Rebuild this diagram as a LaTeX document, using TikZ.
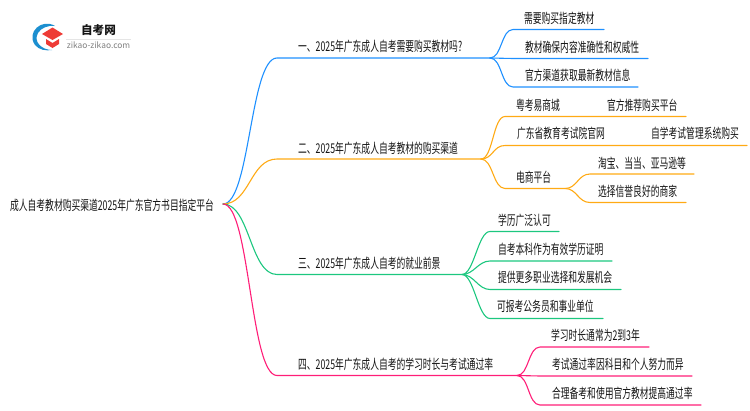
\documentclass[tikz,border=0pt]{standalone}
\usepackage{fontspec}
\setmainfont{Noto Sans CJK SC}
\definecolor{brblue}{HTML}{1E90FF}
\definecolor{brorange}{HTML}{FFAA14}
\definecolor{brgreen}{HTML}{1CC77F}
\definecolor{brpink}{HTML}{FF1E78}
\definecolor{txt}{HTML}{141414}
\definecolor{logoblue}{HTML}{1C8FD0}
\definecolor{logored}{HTML}{EE3B36}
\tikzstyle{every picture}=[x=1pt, y=-1pt]
\tikzstyle{lab}=[anchor=west, inner sep=0pt, xscale=.65, text=txt, font=\fontsize{13.5}{15}\selectfont]
\tikzstyle{wire}=[line width=1.1pt, line cap=round]
\tikzstyle{mainlink}=[to path={.. controls +(27,0) and +(-27,0) .. (\tikztotarget)}]
\tikzstyle{sublink}=[to path={.. controls +(12,0) and +(-12,0) .. (\tikztotarget)}]
\begin{document}
\begin{tikzpicture}
	\useasboundingbox (0,0) rectangle (750,410);
	% logo
	\fill[logoblue] (55,26) .. controls (42,18) and (26,32) .. (35,45) .. controls (39,50) and (46,51) .. (52,50)
		.. controls (42,50) and (33,42) .. (38,33) .. controls (41,28) and (48,25) .. (55,26);
	\fill[logored] (42,34) -- (52.5,27.5) -- (63,34) -- (52.5,40) -- cycle;
	\fill[logored] (46,39) -- (52.5,43) -- (59,39) -- (59,44) -- (52.5,48) -- (46,44) -- cycle;
	\node[inner sep=0pt, text=txt, font=\fontsize{11.6}{13}\selectfont\bfseries] (logo) at (98.5,30.5) {自考网};
	\node[inner sep=0pt, text=black!50, font=\fontsize{8.4}{9}\selectfont] (site) at (98.5,45) {zikao-zikao.com};
	\draw[black!10, line width=.5pt] (66,39) -- (131,39);

	\node[lab] (root) at (10,205) {成人自考教材购买渠道2025年广东官方书目指定平台};
	\coordinate (from) at (223,204);

	% first branch
	\node[lab] (A) at (298,46.5) {一、2025年广东成人自考需要购买教材吗?};
	\coordinate (As) at (277,58);
	\coordinate (Ae) at (490,58);
	\node[lab] (A1) at (524,18) {需要购买指定教材};
	\node[lab] (A2) at (525,47) {教材确保内容准确性和权威性};
	\node[lab] (A3) at (525,75) {官方渠道获取最新教材信息};
	\coordinate (A1s) at (513,29.5); \coordinate (A1e) at (604,29.5);
	\coordinate (A2s) at (513,58.5); \coordinate (A2e) at (648,58.5);
	\coordinate (A3s) at (513,87); \coordinate (A3e) at (638,87);
	\draw[wire,brblue] (from) to[mainlink] (As) -- (Ae);
	\draw[wire,brblue] (Ae) to[sublink] (A1s) -- (A1e);
	\draw[wire,brblue] (Ae) to[sublink] (A2s) -- (A2e);
	\draw[wire,brblue] (Ae) to[sublink] (A3s) -- (A3e);

	% second branch
	\node[lab] (B) at (298,148) {二、2025年广东成人自考教材的购买渠道};
	\coordinate (Bs) at (277,159);
	\coordinate (Be) at (481,159);
	\node[lab] (B1) at (516,105) {粤考易商城};
	\node[lab] (B1x) at (607,105) {官方推荐购买平台};
	\node[lab] (B2) at (517,133) {广东省教育考试院官网};
	\node[lab] (B2x) at (651,133) {自学考试管理系统购买};
	\node[lab] (B3) at (516,177) {电商平台};
	\node[lab] (B3a) at (598,163) {淘宝、当当、亚马逊等};
	\node[lab] (B3b) at (598,191) {选择信誉良好的商家};
	\coordinate (B1s) at (505,116.5); \coordinate (B1e) at (686,116.5);
	\coordinate (B2s) at (505,145.5); \coordinate (B2e) at (747,145.5);
	\coordinate (B3s) at (505,188.5); \coordinate (B3e) at (565,188.5);
	\coordinate (B3as) at (590,174); \coordinate (B3ae) at (694,174);
	\coordinate (B3bs) at (590,202.5); \coordinate (B3be) at (686,202.5);
	\draw[wire,brorange] (from) to[mainlink] (Bs) -- (Be);
	\draw[wire,brorange] (Be) to[sublink] (B1s) -- (B1e);
	\draw[wire,brorange] (Be) to[sublink] (B2s) -- (B2e);
	\draw[wire,brorange] (Be) to[sublink] (B3s) -- (B3e);
	\draw[wire,brorange] (B3e) to[sublink] (B3as) -- (B3ae);
	\draw[wire,brorange] (B3e) to[sublink] (B3bs) -- (B3be);

	% third branch
	\node[lab] (C) at (298,263) {三、2025年广东成人自考的就业前景};
	\coordinate (Cs) at (277,274.5);
	\coordinate (Ce) at (462,274.5);
	\node[lab] (C1) at (498,220) {学历广泛认可};
	\node[lab] (C2) at (498,249) {自考本科作为有效学历证明};
	\node[lab] (C3) at (498,277) {提供更多职业选择和发展机会};
	\node[lab] (C4) at (497,306) {可报考公务员和事业单位};
	\coordinate (C1s) at (490,231.5); \coordinate (C1e) at (559,231.5);
	\coordinate (C2s) at (490,261); \coordinate (C2e) at (612,261);
	\coordinate (C3s) at (490,289.5); \coordinate (C3e) at (621,289.5);
	\coordinate (C4s) at (490,318.5); \coordinate (C4e) at (603,318.5);
	\draw[wire,brgreen] (from) to[mainlink] (Cs) -- (Ce);
	\draw[wire,brgreen] (Ce) to[sublink] (C1s) -- (C1e);
	\draw[wire,brgreen] (Ce) to[sublink] (C2s) -- (C2e);
	\draw[wire,brgreen] (Ce) to[sublink] (C3s) -- (C3e);
	\draw[wire,brgreen] (Ce) to[sublink] (C4s) -- (C4e);

	% fourth branch
	\node[lab] (D) at (298,364) {四、2025年广东成人自考的学习时长与考试通过率};
	\coordinate (Ds) at (277,375.5);
	\coordinate (De) at (517,375.5);
	\node[lab] (D1) at (551,335) {学习时长通常为2到3年};
	\node[lab] (D2) at (552,364) {考试通过率因科目和个人努力而异};
	\node[lab] (D3) at (552,393) {合理备考和使用官方教材提高通过率};
	\coordinate (D1s) at (540,347); \coordinate (D1e) at (649,347);
	\coordinate (D2s) at (540,376); \coordinate (D2e) at (692,376);
	\coordinate (D3s) at (540,405); \coordinate (D3e) at (701,405);
	\draw[wire,brpink] (from) to[mainlink] (Ds) -- (De);
	\draw[wire,brpink] (De) to[sublink] (D1s) -- (D1e);
	\draw[wire,brpink] (De) to[sublink] (D2s) -- (D2e);
	\draw[wire,brpink] (De) to[sublink] (D3s) -- (D3e);
\end{tikzpicture}
\end{document}
